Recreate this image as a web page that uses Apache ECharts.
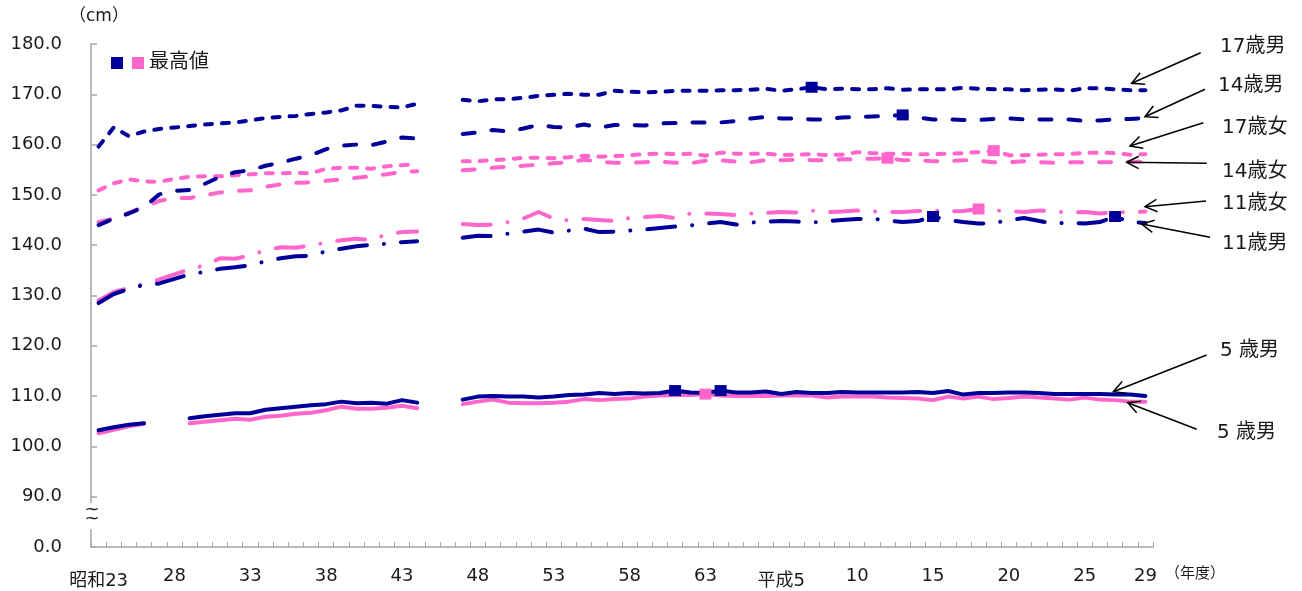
<!DOCTYPE html>
<html><head><meta charset="utf-8">
<script src="https://cdn.jsdelivr.net/npm/echarts@6/dist/echarts.min.js"></script>
<style>html,body{margin:0;padding:0;background:#fff}#c{width:1302px;height:591px}</style>
</head><body><div id="c"></div>
<script>
// Categories: 昭和23 (1948) ... 平成29 (2017)
const categories = ['昭和23','24','25','26','27','28','29','30','31','32','33','34','35','36','37','38','39','40','41','42','43','44','45','46','47','48','49','50','51','52','53','54','55','56','57','58','59','60','61','62','63',
  '平成元','2','3','4','平成5','6','7','8','9','10','11','12','13','14','15','16','17','18','19','20','21','22','23','24','25','26','27','28','29'];

// Y tick values (cm) shown on the broken axis
const yTickLabels = ['0.0','90.0','100.0','110.0','120.0','130.0','140.0','150.0','160.0','170.0','180.0'];

const boy17 = [159.6,163.4,161.7,162.6,163.1,163.4,163.7,164.0,164.2,164.4,164.8,165.3,165.5,165.7,166.1,166.4,166.8,167.7,167.7,167.5,167.4,168.1,
  null,null,
  168.9,168.6,169.0,169.0,169.3,169.7,169.9,170.1,169.9,169.9,170.7,170.5,170.4,170.5,170.7,170.7,170.7,170.8,170.8,170.9,171.1,170.7,171.0,
  171.4,171.0,171.1,171.0,171.0,171.2,170.9,171.0,171.0,171.0,171.3,171.1,171.0,171.0,170.8,170.9,171.0,170.7,171.2,171.2,171.0,170.8,170.8];

const boy14 = [144.0,145.3,146.3,147.6,150.1,150.8,151.0,152.2,153.6,154.5,154.9,155.8,156.4,157.2,157.9,159.1,159.8,160.0,159.9,160.6,161.4,161.2,
  null,null,
  162.1,162.4,162.9,162.6,163.2,163.9,163.5,163.4,164.0,163.4,163.9,163.9,163.8,164.2,164.3,164.4,164.4,164.4,164.7,165.2,165.5,165.2,165.2,
  165.0,165.0,165.4,165.5,165.6,165.7,165.9,165.4,165.0,165.0,164.9,164.9,165.1,165.2,165.0,165.0,165.0,165.0,164.7,164.8,165.0,165.1,165.3];

const girl17 = [150.9,152.3,153.1,152.7,152.6,153.2,153.6,153.7,153.7,153.9,154.1,154.3,154.3,154.4,154.3,155.2,155.4,155.4,155.2,155.7,155.9,156.1,
  null,null,
  156.7,156.7,156.9,157.1,157.4,157.4,157.3,157.5,157.8,157.6,157.7,157.9,158.1,158.2,158.1,158.2,157.8,158.4,158.2,158.2,158.2,157.9,158.0,
  158.1,157.9,158.0,158.5,158.3,158.2,158.2,158.1,158.1,158.2,158.3,158.5,158.8,157.9,157.9,158.0,158.1,158.1,158.4,158.4,158.3,158.0,158.1];

const girl14 = [144.6,145.3,146.5,147.6,148.8,149.4,149.4,149.9,150.5,150.8,150.9,151.6,152.1,152.4,152.5,152.8,153.1,153.4,153.7,154.1,154.6,154.7,
  null,null,
  154.9,155.1,155.4,155.6,155.8,156.0,156.3,156.5,157.0,156.6,156.4,156.4,156.5,156.6,156.4,156.3,156.8,156.9,156.6,156.5,156.9,156.9,157.0,
  156.9,156.9,157.1,157.1,157.2,157.3,156.9,156.9,156.7,156.7,156.9,156.8,156.5,156.5,156.7,156.5,156.4,156.5,156.5,156.5,156.5,156.6,156.6];

const girl11 = [129.0,130.7,131.5,132.3,133.2,134.2,135.2,136.0,137.4,137.3,138.0,139.0,139.6,139.5,140.0,140.5,141.0,141.3,141.0,142.2,142.6,142.7,
  null,null,
  144.2,144.0,144.1,144.6,145.3,146.6,145.3,144.9,145.2,145.0,144.8,145.4,145.6,145.8,145.4,146.3,146.3,146.2,146.0,146.3,146.4,146.6,146.5,
  146.9,146.6,146.7,146.9,146.7,146.6,146.6,146.8,146.9,146.7,146.8,147.2,146.9,146.8,146.6,146.9,146.7,146.5,146.6,146.3,146.5,146.6,146.7];

const boy11 = [128.5,130.3,131.3,132.1,132.4,133.3,134.2,134.7,135.3,135.6,136.0,136.8,137.4,137.8,137.9,138.8,139.3,139.8,140.1,140.3,140.6,140.8,
  null,null,
  141.5,141.9,141.8,142.3,142.7,143.1,142.5,142.9,143.3,142.6,142.7,142.9,143.1,143.4,143.7,143.9,144.3,144.6,144.1,144.5,144.7,144.8,144.7,
  144.5,144.8,145.0,145.2,145.3,144.9,144.6,144.8,145.7,145.0,144.6,144.3,144.4,145.0,145.4,144.8,144.3,144.5,144.3,144.6,145.7,144.6,144.4];

const boy5 = [103.2,103.8,104.3,104.6,null,null,
  105.6,106.0,106.3,106.6,106.6,107.3,107.6,107.9,108.2,108.4,108.9,108.6,108.7,108.5,109.2,108.7,
  null,null,
  109.3,109.9,110.0,109.9,109.9,109.7,109.9,110.2,110.3,110.6,110.4,110.6,110.5,110.6,111.1,110.7,110.6,111.1,110.7,110.7,110.9,110.4,110.8,
  110.6,110.6,110.8,110.7,110.7,110.7,110.7,110.8,110.6,111.0,110.3,110.6,110.6,110.7,110.7,110.6,110.4,110.4,110.4,110.4,110.3,110.3,110.0];

const girl5 = [102.6,103.3,104.0,104.5,null,null,
  104.6,104.9,105.2,105.5,105.3,105.9,106.1,106.5,106.7,107.2,107.9,107.5,107.5,107.7,108.1,107.6,
  null,null,
  108.4,108.9,109.3,108.7,108.6,108.6,108.7,108.9,109.4,109.2,109.4,109.5,109.9,110.1,110.2,110.2,110.4,110.1,110.0,110.0,110.0,110.1,110.1,
  110.1,109.7,109.9,109.9,109.9,109.7,109.6,109.5,109.2,109.9,109.5,109.9,109.4,109.6,109.9,109.7,109.5,109.3,109.7,109.3,109.2,108.9,108.9];

const NAVY = '#000099';
const PINK = '#FF66CC';
const BREAK = 80; // axis break: 0..90 compressed into one step
const disp = v => (v == null ? null : +(v - BREAK).toFixed(2));

const FONT = "'DejaVu Sans','Noto Sans CJK JP'";
const SHORT = [7, 10], LONG = [12, 17], DASHDOT = [28, 17, 0.1, 17];

const seriesDefs = [
  {name:'17歳女', data:girl17, color:PINK, type:SHORT},
  {name:'14歳女', data:girl14, color:PINK, type:LONG},
  {name:'11歳女', data:girl11, color:PINK, type:DASHDOT},
  {name:'5歳女',  data:girl5,  color:PINK, type:'solid'},
  {name:'17歳男', data:boy17, color:NAVY, type:SHORT},
  {name:'14歳男', data:boy14, color:NAVY, type:LONG},
  {name:'11歳男', data:boy11, color:NAVY, type:DASHDOT},
  {name:'5歳男',  data:boy5,  color:NAVY, type:'solid'}
];

const series = [];
seriesDefs.forEach(d => {
  series.push({
    type:'line', name:d.name, data:d.data.map(disp), showSymbol:false, symbol:'none',
    connectNulls:false, silent:true, animation:false, z:2,
    lineStyle:{color:d.color, width:4, type:d.type, cap:'round', join:'round'}
  });
});
seriesDefs.forEach(d => {
  const vals = d.data.filter(v => v != null);
  const mx = Math.max.apply(null, vals);
  const pts = [];
  d.data.forEach((v, i) => { if (v === mx) pts.push([i, disp(v)]); });
  series.push({
    type:'scatter', name:d.name + '最高値', data:pts, symbol:'rect', symbolSize:[12,11],
    itemStyle:{color:d.color, opacity:1}, silent:true, animation:false, z:5
  });
});

function arrow(x1, y1, x2, y2) {
  const a = Math.atan2(y1 - y2, x1 - x2), L = 13.5, w = 0.48;
  return [
    {type:'line', shape:{x1, y1, x2, y2}, style:{stroke:'#000', lineWidth:1.5}, z:20},
    {type:'polyline', shape:{points:[[x2 + L*Math.cos(a+w), y2 + L*Math.sin(a+w)], [x2, y2], [x2 + L*Math.cos(a-w), y2 + L*Math.sin(a-w)]]},
     style:{stroke:'#000', lineWidth:1.5, fill:null}, z:20}
  ];
}
function txt(x, y, s, size, align) {
  return {type:'text', x, y, z:20, style:{text:s, font:size + 'px ' + FONT, fill:'#1a1a1a', align:align || 'left', verticalAlign:'middle'}};
}

const graphics = [
  txt(69, 17, '（cm）', 17),
  txt(1165, 574, '（年度）', 15),
  {type:'rect', shape:{x:111, y:57, width:12, height:12}, style:{fill:NAVY}, z:20},
  {type:'rect', shape:{x:132, y:57, width:12, height:12}, style:{fill:PINK}, z:20},
  txt(149, 63, '最高値', 20),
  {type:'rect', shape:{x:84, y:503, width:16, height:26}, style:{fill:'#fff'}, z:20},
  txt(92, 510, '~', 18, 'center'),
  txt(92, 519, '~', 18, 'center'),
  txt(1220, 47, '17歳男', 20),
  txt(1218, 86, '14歳男', 20),
  txt(1222, 128, '17歳女', 20),
  txt(1222, 172, '14歳女', 20),
  txt(1222, 204, '11歳女', 20),
  txt(1222, 244, '11歳男', 20),
  txt(1220, 351, '5 歳男', 20),
  txt(1217, 433, '5 歳男', 20)
].concat(
  arrow(1200.7, 52.7, 1131.7, 83.3),
  arrow(1205, 89.3, 1145, 116.7),
  arrow(1203.3, 122.7, 1130, 146),
  arrow(1206.7, 163.3, 1126.7, 162.3),
  arrow(1206, 201, 1145, 206.7),
  arrow(1210, 237.3, 1141.7, 224),
  arrow(1206.7, 355, 1113.3, 391.7),
  arrow(1196.7, 429.3, 1127.7, 402.7)
);

const chart = echarts.init(document.getElementById('c'), null, {renderer:'canvas'});
chart.setOption({
  animation:false,
  backgroundColor:'#fff',
  grid:{left:91, right:149, top:44, bottom:44, containLabel:false},
  xAxis:{
    type:'category', data:categories, boundaryGap:true,
    axisLine:{show:true, lineStyle:{color:'#a6a6a6', width:1.5}},
    axisTick:{show:true, inside:true, length:5, interval:0, lineStyle:{color:'#a6a6a6', width:1}},
    splitLine:{show:false},
    axisLabel:{
      interval:(i) => i % 5 === 0 || i === categories.length - 1,
      margin:20, color:'#1a1a1a', fontSize:18, fontFamily:FONT,
      formatter:(v) => /[昭平]/.test(v) ? '{j|' + v + '}' : v,
      rich:{j:{fontSize:18, fontFamily:FONT, color:'#1a1a1a', padding:[5,0,0,0]}}
    }
  },
  yAxis:{
    type:'value', min:0, max:100, interval:10,
    axisLine:{show:true, lineStyle:{color:'#a6a6a6', width:1.5}},
    axisTick:{show:true, inside:true, length:6, lineStyle:{color:'#a6a6a6', width:1.5}},
    splitLine:{show:false},
    axisLabel:{margin:29, color:'#1a1a1a', fontSize:18, fontFamily:FONT,
      formatter:(v) => yTickLabels[Math.round(v / 10)]}
  },
  series:series,
  graphic:graphics
});
</script>
</body></html>
